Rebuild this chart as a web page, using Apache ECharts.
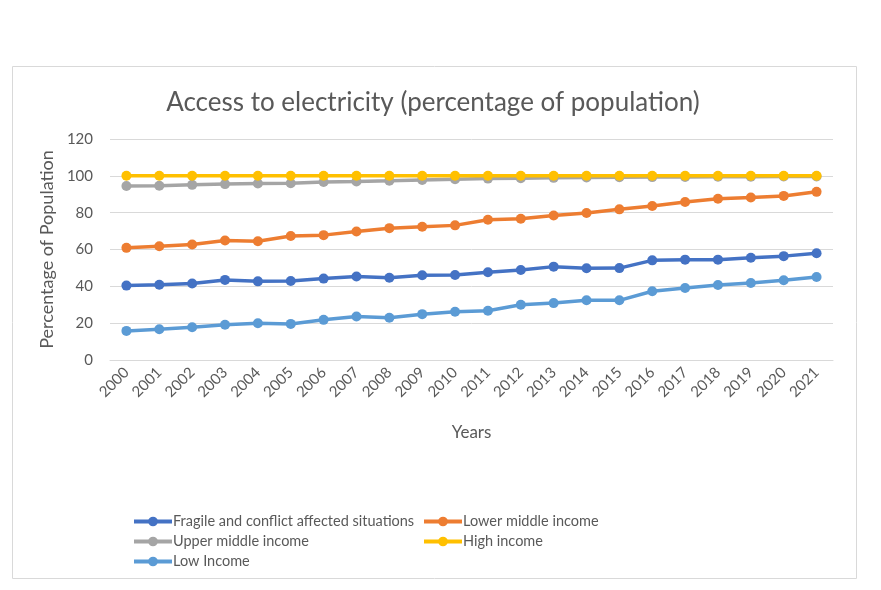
<!DOCTYPE html>
<html>
<head>
<meta charset="utf-8">
<script src="https://cdn.jsdelivr.net/npm/echarts@6/dist/echarts.min.js"></script>
<style>html,body{margin:0;padding:0;background:#fff;}#c{width:881px;height:590px;}</style>
</head>
<body>
<div id="c"></div>
<script>
const years = ['2000','2001','2002','2003','2004','2005','2006','2007','2008','2009','2010','2011','2012','2013','2014','2015','2016','2017','2018','2019','2020','2021'];
const fragile = [40.4,40.9,41.5,43.5,42.7,42.9,44.2,45.3,44.7,46.0,46.2,47.6,48.9,50.7,49.8,49.9,54.1,54.5,54.5,55.5,56.4,58.0];
const lowerMiddle = [60.9,61.8,62.7,64.9,64.5,67.3,67.8,69.8,71.6,72.4,73.1,76.2,76.7,78.5,79.8,81.8,83.6,85.8,87.6,88.2,89.1,91.3];
const upperMiddle = [94.5,94.6,95.1,95.5,95.8,96.0,96.7,96.9,97.3,97.8,98.2,98.5,98.7,98.9,99.1,99.2,99.3,99.4,99.5,99.5,99.6,99.6];
const highIncome = [100,100,100,100,100,100,100,100,100,100,100,100,100,100,100,100,100,100,100,100,100,100];
const lowIncome = [15.8,16.7,17.8,19.1,20.0,19.6,21.8,23.6,22.9,24.9,26.2,26.7,30.0,30.9,32.4,32.4,37.3,39.1,40.7,41.8,43.3,45.1];
const yTicks = [0,20,40,60,80,100,120];

const FONT = 'Lato, "Open Sans", sans-serif';
const TXT = '#595959';
const chart = echarts.init(document.getElementById('c'));
function s(name, data, color) {
  return {
    name, type: 'line', data,
    symbol: 'circle', symbolSize: 10,
    lineStyle: { width: 3.5, color },
    itemStyle: { color },
    emphasis: { disabled: true },
    animation: false
  };
}
const legendCommon = {
  orient: 'vertical', top: 514, itemGap: 5, itemWidth: 38, itemHeight: 12, padding: 0,
  textStyle: { fontFamily: FONT, fontSize: 14.5, color: TXT, padding: [0,0,0,-4] },
  lineStyle: { width: 4 },
  selectedMode: false
};
chart.setOption({
  animation: false,
  textStyle: { fontFamily: FONT },
  title: {
    text: 'Access to electricity (percentage of population)',
    left: 428, top: 85, textAlign: 'center',
    textStyle: { fontFamily: FONT, fontSize: 26, fontWeight: 'normal', color: TXT }
  },
  graphic: [{
    type: 'rect', shape: { x: 12.5, y: 66.5, width: 844, height: 512 },
    style: { fill: 'none', stroke: '#d9d9d9', lineWidth: 1 }, silent: true
  }],
  grid: { left: 110, right: 48, top: 139, bottom: 230, containLabel: false },
  xAxis: {
    type: 'category', data: years, boundaryGap: true,
    name: 'Years', nameLocation: 'middle', nameGap: 64,
    nameTextStyle: { fontFamily: FONT, fontSize: 17, color: TXT },
    axisLine: { lineStyle: { color: '#d9d9d9', width: 1 } },
    axisTick: { show: false },
    axisLabel: { rotate: 45, interval: 0, fontFamily: FONT, fontSize: 15, color: TXT, margin: 10 }
  },
  yAxis: {
    type: 'value', min: yTicks[0], max: yTicks[yTicks.length-1], interval: 20,
    name: 'Percentage of Population', nameLocation: 'middle', nameGap: 50, nameRotate: 90,
    nameTextStyle: { fontFamily: FONT, fontSize: 18, color: TXT },
    axisLine: { show: false }, axisTick: { show: false },
    axisLabel: { fontFamily: FONT, fontSize: 15, color: TXT, margin: 17 },
    splitLine: { lineStyle: { color: '#d9d9d9', width: 1 } }
  },
  legend: [
    Object.assign({}, legendCommon, {
      left: 132,
      data: ['Fragile and conflict affected situations', 'Upper middle income', 'Low Income']
    }),
    Object.assign({}, legendCommon, {
      left: 422,
      data: ['Lower middle income', 'High income']
    })
  ],
  series: [
    s('Fragile and conflict affected situations', fragile, '#4472C4'),
    s('Lower middle income', lowerMiddle, '#ED7D31'),
    s('Upper middle income', upperMiddle, '#A5A5A5'),
    s('High income', highIncome, '#FFC000'),
    s('Low Income', lowIncome, '#5B9BD5')
  ]
});
</script>
</body>
</html>
